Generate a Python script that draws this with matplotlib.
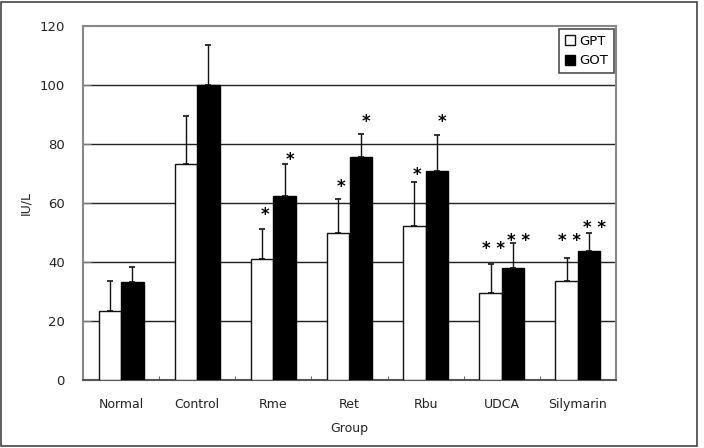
import numpy as np
import matplotlib
matplotlib.use("Agg")
from matplotlib import pyplot as plt
from matplotlib.patches import Rectangle, Patch

# Data
groups = ["Normal", "Control", "Rme", "Ret", "Rbu", "UDCA", "Silymarin"]
gpt = [23.5, 73.3, 40.9, 49.9, 52.2, 29.4, 33.6]
gpt_err = [10.1, 16.2, 10.2, 11.5, 15.0, 9.9, 7.9]
got = [33.2, 100.0, 62.5, 75.7, 71.0, 38.0, 43.8]
got_err = [5.2, 13.6, 10.7, 7.8, 11.9, 8.3, 5.9]
gpt_marks = ["", "", "*", "*", "*", "* *", "* *"]
got_marks = ["", "", "*", "*", "*", "* *", "* *"]
gpt_mark_y = [0, 0, 57.3, 66.9, 71.0, 45.8, 48.4]
got_mark_y = [0, 0, 76.0, 89.0, 89.0, 48.4, 53.1]
yticks = [0, 20, 40, 60, 80, 100, 120]

plt.rcParams["font.family"] = ["DejaVu Sans"]

fig = plt.figure(figsize=(7.04, 4.48), dpi=100)
ax = fig.add_axes([83 / 704, 1 - 380 / 448, 533 / 704, 354 / 448])

# outer frame round the whole picture
fig.patches.append(Rectangle((1 / 704, 2 / 448), 696 / 704, 444 / 448,
                             transform=fig.transFigure, fill=False,
                             edgecolor="#444444", linewidth=1.2))

x = np.arange(len(groups))
w = 0.296
edge = "#111111"

ax.bar(x - w / 2, gpt, w, color="white", edgecolor=edge, linewidth=1, zorder=3)
ax.bar(x + w / 2, got, w, color="black", edgecolor="black", linewidth=1, zorder=3)
ax.errorbar(x - w / 2, gpt, yerr=[np.zeros(len(gpt)), gpt_err], fmt="none",
            ecolor=edge, elinewidth=1, capsize=2.5, capthick=1.2, zorder=4)
ax.errorbar(x + w / 2, got, yerr=[np.zeros(len(got)), got_err], fmt="none",
            ecolor=edge, elinewidth=1, capsize=2.5, capthick=1.2, zorder=4)

# significance marks
for i in range(len(groups)):
    if gpt_marks[i]:
        ax.annotate(gpt_marks[i], (x[i] - w / 2, gpt_mark_y[i]), xytext=(2, -3),
                    textcoords="offset points", ha="center", va="center",
                    fontsize=12, fontweight="bold", zorder=5)
    if got_marks[i]:
        ax.annotate(got_marks[i], (x[i] + w / 2, got_mark_y[i]), xytext=(4, -3),
                    textcoords="offset points", ha="center", va="center",
                    fontsize=12, fontweight="bold", zorder=5)

ax.set_xlim(-0.5, len(groups) - 0.5)
ax.set_ylim(0, 120)
ax.set_yticks(yticks)
ax.set_yticklabels([str(v) for v in yticks], fontsize=9.5, color="#222222")
ax.set_xticks(x)
ax.set_xticklabels(groups, fontsize=9, color="#222222")
ax.tick_params(axis="x", length=0, pad=13)
ax.tick_params(axis="y", direction="in", length=6, color="#777777", pad=13)
ax.set_xticks(np.arange(-0.5, len(groups)), minor=True)
ax.tick_params(axis="x", which="minor", direction="in", length=3, color="#444444")

for v in yticks[1:-1]:
    ax.axhline(v, color="#222222", linewidth=1, zorder=1)

for s in ["top", "right", "left"]:
    ax.spines[s].set_color("#888888")
    ax.spines[s].set_linewidth(1.5)
ax.spines["bottom"].set_color("#555555")
ax.spines["bottom"].set_linewidth(1.5)

ax.set_xlabel("Group", fontsize=9, color="#222222", labelpad=8)
ax.set_ylabel("IU/L", fontsize=9, color="#222222", labelpad=5)

handles = [Patch(facecolor="white", edgecolor=edge, linewidth=1),
           Patch(facecolor="black", edgecolor="black")]
leg = ax.legend(handles, ["GPT", "GOT"], loc="upper right",
                bbox_to_anchor=(0.996, 0.992), fontsize=9.5, frameon=True,
                fancybox=False, handlelength=0.8, handleheight=0.8,
                handletextpad=0.3, borderpad=0.45, labelspacing=0.5,
                borderaxespad=0)
leg.get_frame().set_edgecolor("#222222")
leg.get_frame().set_linewidth(1.2)

plt.savefig("out.png", dpi=100)
